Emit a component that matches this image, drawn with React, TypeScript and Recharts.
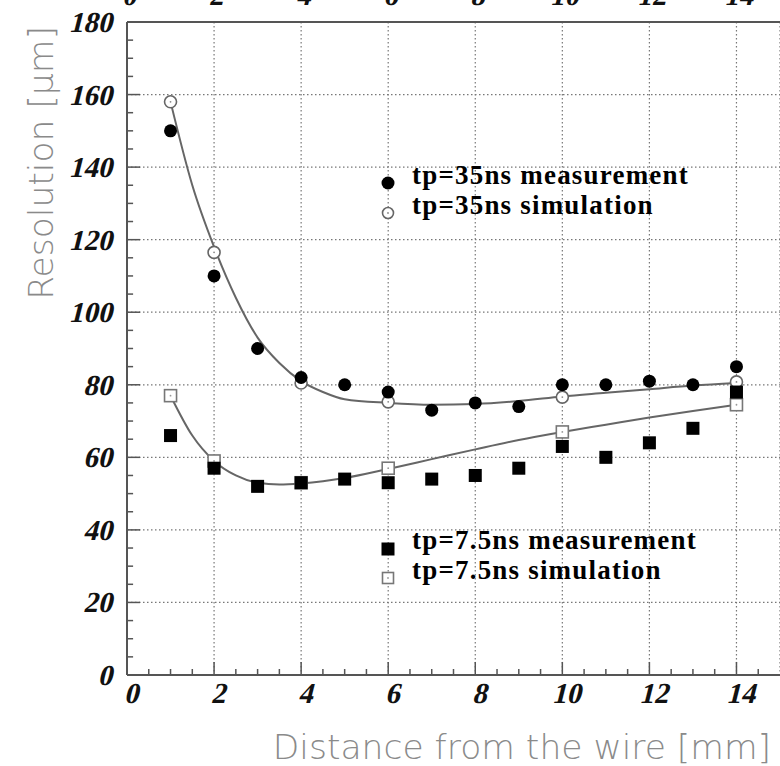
import React from 'react';
import { ComposedChart, XAxis, YAxis, CartesianGrid, Scatter, Line, ReferenceLine } from 'recharts';

// Measured points (distance in mm, resolution in µm)
const distances = [1, 2, 3, 4, 5, 6, 7, 8, 9, 10, 11, 12, 13, 14];
const meas35 = [150, 110, 90, 82, 80, 78, 73, 75, 74, 80, 80, 81, 80, 85];
const meas75 = [66, 57, 52, 53, 54, 53, 54, 55, 57, 63, 60, 64, 68, 78];

// Simulated points
const simDistances = [1, 2, 4, 6, 10, 14];
const sim35 = [158, 116.5, 80.5, 75.3, 76.6, 80.8];
const sim75 = [77, 59, 53, 57, 67, 74.5];

// Fitted curves
const fitDistances = [1, 1.5, 2, 2.5, 3, 3.5, 4, 4.5, 5, 6, 7, 8, 9, 10, 11, 12, 13, 14];
const fit35 = [158, 135, 118, 104, 93, 86, 81, 78, 76, 75, 74.5, 74.7, 75.5, 76.8, 77.8, 78.8, 79.8, 80.5];
const fit75 = [77, 66, 59, 55, 53, 52.5, 52.8, 53.4, 54.3, 56.8, 59.5, 62.2, 64.8, 67, 69, 71, 72.8, 74.5];

const xTicks = [0, 2, 4, 6, 8, 10, 12, 14];
const yTicks = [0, 20, 40, 60, 80, 100, 120, 140, 160, 180];
const xMinorTicks = [0.5, 1, 1.5, 2.5, 3, 3.5, 4.5, 5, 5.5, 6.5, 7, 7.5, 8.5, 9, 9.5, 10.5, 11, 11.5, 12.5, 13, 13.5, 14.5];
const xMajorTicks = [2, 4, 6, 8, 10, 12, 14];
const yMinorTicks = [5, 10, 15, 25, 30, 35, 45, 50, 55, 65, 70, 75, 85, 90, 95, 105, 110, 115, 125, 130, 135, 145, 150, 155, 165, 170, 175];
const yMajorTicks = [20, 40, 60, 80, 100, 120, 140, 160];

const legend35 = ['tp=35ns measurement', 'tp=35ns simulation'];
const legend75 = ['tp=7.5ns measurement', 'tp=7.5ns simulation'];
const xTitle = 'Distance from the wire [mm]';
const yTitle = 'Resolution [\u03bcm]';

const zip = (xs: number[], ys: number[]) => xs.map((x, i) => ({ x, y: ys[i] }));
const meas35Data = zip(distances, meas35);
const meas75Data = zip(distances, meas75);
const sim35Data = zip(simDistances, sim35);
const sim75Data = zip(simDistances, sim75);
const fit35Data = zip(fitDistances, fit35);
const fit75Data = zip(fitDistances, fit75);

const AX = '#555';
const SERIF = "'Liberation Serif', 'Times New Roman', serif";
const tickStyle = {
  fontFamily: SERIF,
  fontWeight: 700,
  fontSize: 29,
  fill: '#111',
} as any;

// Slanted serif numeral (synthetic italic via skew)
const SlantNum = ({ x, y, anchor, value }: any) => (
  <text transform={`translate(${x},${y}) skewX(-14)`} x={0} y={0} textAnchor={anchor} {...tickStyle}>
    {value}
  </text>
);

const BottomTick = (p: any) => <SlantNum x={p.x + 4} y={p.y + 19} anchor="middle" value={p.payload.value} />;
const LeftTick = (p: any) => <SlantNum x={p.x + 2} y={p.y + 10} anchor="end" value={p.payload.value} />;
const TopLabel = (t: number) => (props: any) => <SlantNum x={props.viewBox.x + 2} y={5} anchor="middle" value={t} />;

const FilledCircle = (p: any) => <circle cx={p.cx} cy={p.cy} r={6.5} fill="#000" />;
const OpenCircle = (p: any) => (
  <g>
    <circle cx={p.cx} cy={p.cy} r={6} fill="#fff" stroke="#666" strokeWidth={1.6} />
    <circle cx={p.cx} cy={p.cy} r={0.9} fill="#888" />
  </g>
);
const FilledSquare = (p: any) => <rect x={p.cx - 6.5} y={p.cy - 6.5} width={13} height={13} fill="#000" />;
const OpenSquare = (p: any) => (
  <g>
    <rect x={p.cx - 6} y={p.cy - 6} width={12} height={12} fill="#fff" stroke="#777" strokeWidth={1.6} />
    <circle cx={p.cx} cy={p.cy} r={0.9} fill="#999" />
  </g>
);

const legendText = { fontFamily: SERIF, fontWeight: 700, fontSize: 27, letterSpacing: 1.2, fill: '#000' } as any;
const titleText = { fontFamily: "'DejaVu Sans', sans-serif", fontWeight: 200, fontSize: 34.5, fill: '#8a8a8a' } as any;

export default function App() {
  return (
    <div style={{ position: 'absolute', left: 0, top: 0, width: 780, height: 766, background: '#fff', overflow: 'hidden' }}>
      <ComposedChart width={780} height={766} margin={{ top: 22, right: 0, bottom: 0, left: 0 }} style={{ overflow: 'visible' }}>
        <CartesianGrid stroke="#777" strokeWidth={1.2} strokeDasharray="1.5 2.5" />
        <XAxis
          dataKey="x"
          type="number"
          domain={[0, 15]}
          ticks={xTicks}
          allowDataOverflow
          height={91}
          tickLine={false}
          tickSize={0}
          tickMargin={9}
          axisLine={{ stroke: AX, strokeWidth: 2 }}
          tick={BottomTick}
        />
        <YAxis
          type="number"
          domain={[0, 180]}
          ticks={yTicks}
          width={127}
          tickLine={false}
          tickSize={0}
          tickMargin={17}
          axisLine={{ stroke: AX, strokeWidth: 2 }}
          tick={LeftTick}
        />
        <ReferenceLine y={180} stroke={AX} strokeWidth={2} />
        {xTicks.map((t) => (
          <ReferenceLine key={'top' + t} x={t} stroke="none" ifOverflow="visible" label={{ content: TopLabel(t) }} />
        ))}
        {xMinorTicks.map((t) => (
          <ReferenceLine key={'xm' + t} segment={[{ x: t, y: 0 }, { x: t, y: 1.65 }]} stroke={AX} strokeWidth={1.5} />
        ))}
        {xMajorTicks.map((t) => (
          <ReferenceLine key={'xM' + t} segment={[{ x: t, y: 0 }, { x: t, y: 3.6 }]} stroke={AX} strokeWidth={1.5} />
        ))}
        {yMinorTicks.map((t) => (
          <ReferenceLine key={'ym' + t} segment={[{ x: 0, y: t }, { x: 0.14, y: t }]} stroke={AX} strokeWidth={1.5} />
        ))}
        {yMajorTicks.map((t) => (
          <ReferenceLine key={'yM' + t} segment={[{ x: 0, y: t }, { x: 0.3, y: t }]} stroke={AX} strokeWidth={1.5} />
        ))}
        <Line data={fit35Data} dataKey="y" type="monotone" stroke="#666" strokeWidth={2} dot={false} isAnimationActive={false} />
        <Line data={fit75Data} dataKey="y" type="monotone" stroke="#666" strokeWidth={2} dot={false} isAnimationActive={false} />
        <Scatter data={sim35Data} dataKey="y" shape={OpenCircle} isAnimationActive={false} />
        <Scatter data={sim75Data} dataKey="y" shape={OpenSquare} isAnimationActive={false} />
        <Scatter data={meas35Data} dataKey="y" shape={FilledCircle} isAnimationActive={false} />
        <Scatter data={meas75Data} dataKey="y" shape={FilledSquare} isAnimationActive={false} />
      </ComposedChart>
      <svg width={780} height={766} style={{ position: 'absolute', left: 0, top: 0, pointerEvents: 'none' }}>
        <circle cx={388} cy={183} r={6.5} fill="#000" />
        <circle cx={388} cy={213} r={5.5} fill="#fff" stroke="#666" strokeWidth={1.6} />
        <circle cx={388} cy={213} r={0.9} fill="#888" />
        <text x={412} y={184} {...legendText}>{legend35[0]}</text>
        <text x={412} y={214} {...legendText}>{legend35[1]}</text>

        <rect x={381.5} y={542.5} width={13} height={13} fill="#000" />
        <rect x={382.5} y={572.5} width={11} height={11} fill="#fff" stroke="#777" strokeWidth={1.6} />
        <circle cx={388} cy={578} r={0.9} fill="#999" />
        <text x={412} y={549} {...legendText}>{legend75[0]}</text>
        <text x={412} y={579} {...legendText}>{legend75[1]}</text>

        <text x={771} y={759} textAnchor="end" {...titleText}>{xTitle}</text>
        <text x={53} y={163} transform="rotate(-90 53 163)" textAnchor="middle" {...titleText}>{yTitle}</text>
      </svg>
    </div>
  );
}
